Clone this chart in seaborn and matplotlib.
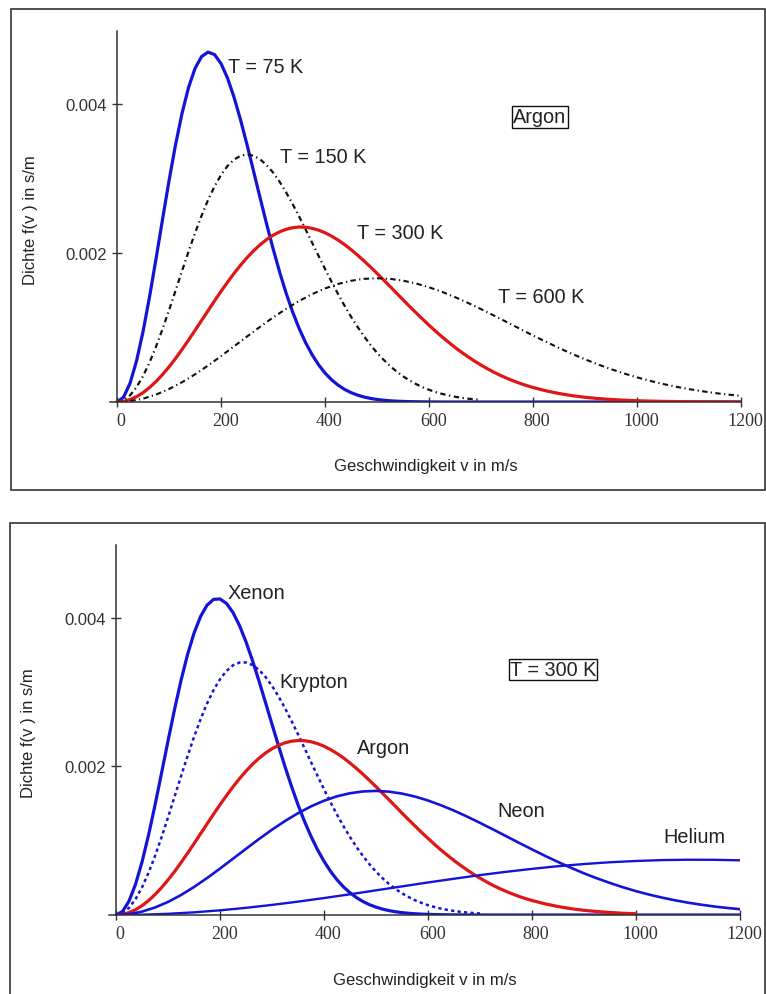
import matplotlib
matplotlib.use("Agg")
import matplotlib.pyplot as plt
import matplotlib.transforms as mtransforms
import seaborn as sns
from matplotlib.patches import Rectangle

# ---------------- data ----------------
# velocity grids (m/s)
v_narrow = [0, 12.5, 25, 37.5, 50, 62.5, 75, 87.5, 100, 112.5, 125, 137.5, 150, 162.5,
            175, 187.5, 200, 212.5, 225, 237.5, 250, 262.5, 275, 287.5, 300, 312.5, 325,
            337.5, 350, 362.5, 375, 387.5, 400, 412.5, 425, 437.5, 450, 462.5, 475, 487.5,
            500, 512.5, 525, 537.5, 550, 562.5, 575, 587.5, 600, 612.5, 625, 637.5, 650,
            662.5, 675, 687.5, 700, 1200]
v_argon300 = [0, 12.5, 25, 37.5, 50, 62.5, 75, 87.5, 100, 112.5, 125, 137.5, 150, 162.5,
              175, 187.5, 200, 212.5, 225, 237.5, 250, 262.5, 275, 287.5, 300, 312.5, 325,
              337.5, 350, 362.5, 375, 387.5, 400, 412.5, 425, 437.5, 450, 462.5, 475,
              487.5, 500, 512.5, 525, 537.5, 550, 562.5, 575, 587.5, 600, 612.5, 625,
              637.5, 650, 662.5, 675, 687.5, 700, 712.5, 725, 737.5, 750, 762.5, 775,
              787.5, 800, 825, 850, 875, 900, 925, 950, 975, 1000, 1025, 1050, 1075, 1100,
              1125, 1150, 1175, 1200]
v_wide = [0, 25, 50, 75, 100, 125, 150, 175, 200, 225, 250, 275, 300, 325, 350, 375,
          400, 425, 450, 475, 500, 525, 550, 575, 600, 625, 650, 675, 700, 725, 750,
          775, 800, 825, 850, 875, 900, 925, 950, 975, 1000, 1025, 1050, 1075, 1100,
          1125, 1150, 1175, 1200]
v_helium = [0, 50, 100, 150, 200, 250, 300, 350, 400, 450, 500, 550, 600, 650, 700,
            750, 800, 850, 900, 950, 1000, 1050, 1100, 1150, 1200]

# Argon at different temperatures (top panel), density f(v) in s/m
argon_75K = [0.0, 0.0000636, 0.000251, 0.000550, 0.000944, 0.001410, 0.001922, 0.002450,
             0.002969, 0.003452, 0.003874, 0.004221, 0.004477, 0.004636, 0.004697,
             0.004664, 0.004543, 0.004349, 0.004092, 0.003789, 0.003454, 0.003101,
             0.002745, 0.002395, 0.002061, 0.001750, 0.001466, 0.001213, 0.000991,
             0.000799, 0.000637, 0.000501, 0.000389, 0.000299, 0.000227, 0.000170,
             0.000126, 0.0000926, 0.0000671, 0.0000481, 0.0000341, 0.0000239, 0.0000165,
             0.0000113, 0.0000077, 0.0000051, 0.0000034, 0.0000022, 0.0000014, 0.0000009,
             0.0, 0.0, 0.0, 0.0, 0.0, 0.0, 0.0, 0.0]
argon_150K = [0.0, 0.0000225, 0.0000894, 0.000199, 0.000347, 0.000530, 0.000743, 0.000979,
              0.001231, 0.001494, 0.001758, 0.002018, 0.002268, 0.002500, 0.002711,
              0.002894, 0.003047, 0.003168, 0.003254, 0.003305, 0.003322, 0.003306,
              0.003258, 0.003182, 0.003081, 0.002958, 0.002816, 0.002660, 0.002493,
              0.002319, 0.002141, 0.001963, 0.001787, 0.001615, 0.001451, 0.001293,
              0.001146, 0.001009, 0.000882, 0.000766, 0.000661, 0.000568, 0.000484,
              0.000410, 0.000345, 0.000289, 0.000241, 0.000199, 0.000164, 0.000134,
              0.000109, 0.0000881, 0.0000708, 0.0000565, 0.0000448, 0.0000354, 0.0000279]
argon_300K = [0.0, 0.0000080, 0.0000318, 0.0000711, 0.000125, 0.000194, 0.000275, 0.000368,
              0.000472, 0.000584, 0.000705, 0.000831, 0.000961, 0.001093, 0.001225,
              0.001357, 0.001485, 0.001608, 0.001726, 0.001836, 0.001937, 0.002029,
              0.002110, 0.002180, 0.002238, 0.002284, 0.002318, 0.002339, 0.002349,
              0.002346, 0.002332, 0.002307, 0.002272, 0.002227, 0.002174, 0.002114,
              0.002046, 0.001972, 0.001894, 0.001812, 0.001727, 0.001639, 0.001551,
              0.001462, 0.001372, 0.001284, 0.001198, 0.001113, 0.001031, 0.000951,
              0.000875, 0.000803, 0.000733, 0.000668, 0.000607, 0.000549, 0.000496,
              0.000446, 0.000399, 0.000357, 0.000318, 0.000283, 0.000250, 0.000221,
              0.000195, 0.000150, 0.000114, 0.0000852, 0.0000632, 0.0000463, 0.0000336,
              0.0000240, 0.0000170, 0.0000119, 0.0000083, 0.0000056, 0.0000038, 0.0000026,
              0.0000017, 0.0000011, 0.0000007]
argon_600K = [0.0, 0.0000113, 0.0000447, 0.0000993, 0.000174, 0.000265, 0.000371, 0.000489,
              0.000616, 0.000747, 0.000879, 0.001009, 0.001134, 0.001250, 0.001355,
              0.001447, 0.001524, 0.001584, 0.001627, 0.001653, 0.001661, 0.001653,
              0.001629, 0.001591, 0.001540, 0.001479, 0.001408, 0.001330, 0.001247,
              0.001160, 0.001071, 0.000982, 0.000893, 0.000808, 0.000725, 0.000646,
              0.000573, 0.000504, 0.000441, 0.000383, 0.000331, 0.000284, 0.000242,
              0.000205, 0.000173, 0.000145, 0.000120, 0.0000997, 0.0000819]

# Noble gases at 300 K (bottom panel)
xenon = [0.0, 0.0000474, 0.000187, 0.000413, 0.000714, 0.001074, 0.001479, 0.001908,
         0.002343, 0.002765, 0.003157, 0.003504, 0.003793, 0.004017, 0.004169, 0.004248,
         0.004254, 0.004193, 0.004071, 0.003895, 0.003676, 0.003424, 0.003149, 0.002860,
         0.002567, 0.002277, 0.001996, 0.001731, 0.001484, 0.001260, 0.001058, 0.000879,
         0.000723, 0.000588, 0.000474, 0.000378, 0.000299, 0.000234, 0.000181, 0.000139,
         0.000106, 0.0000795, 0.0000593, 0.0000438, 0.0000321, 0.0000233, 0.0000167,
         0.0000119, 0.0000084, 0.0000059, 0.0000041, 0.0000028, 0.0000019, 0.0000013,
         0.0, 0.0, 0.0, 0.0]
krypton = [0.0, 0.0000242, 0.0000961, 0.000213, 0.000372, 0.000568, 0.000795, 0.001046,
           0.001313, 0.001590, 0.001867, 0.002138, 0.002396, 0.002633, 0.002845, 0.003026,
           0.003174, 0.003286, 0.003361, 0.003398, 0.003399, 0.003365, 0.003299, 0.003204,
           0.003084, 0.002943, 0.002784, 0.002612, 0.002432, 0.002246, 0.002058, 0.001874,
           0.001692, 0.001517, 0.001350, 0.001195, 0.001049, 0.000915, 0.000792, 0.000682,
           0.000583, 0.000495, 0.000418, 0.000350, 0.000292, 0.000242, 0.000199, 0.000163,
           0.000132, 0.000107, 0.0000859, 0.0000685, 0.0000543, 0.0000428, 0.0000336,
           0.0000262, 0.0000203]
neon = [0.0, 0.0000115, 0.0000454, 0.000101, 0.000176, 0.000269, 0.000377, 0.000497,
        0.000625, 0.000758, 0.000891, 0.001023, 0.001148, 0.001265, 0.001370, 0.001462,
        0.001538, 0.001598, 0.001639, 0.001663, 0.001670, 0.001660, 0.001634, 0.001594,
        0.001541, 0.001477, 0.001405, 0.001325, 0.001240, 0.001152, 0.001062, 0.000971,
        0.000883, 0.000796, 0.000714, 0.000635, 0.000561, 0.000493, 0.000431, 0.000373,
        0.000321, 0.000275, 0.000234, 0.000198, 0.000166, 0.000139, 0.000115, 0.0000952,
        0.0000781]
helium = [0.0, 0.0000040, 0.0000161, 0.0000359, 0.0000628, 0.0000964, 0.000136, 0.000180,
          0.000228, 0.000279, 0.000332, 0.000385, 0.000438, 0.000488, 0.000537, 0.000581,
          0.000621, 0.000657, 0.000686, 0.000710, 0.000727, 0.000739, 0.000744, 0.000743,
          0.000736]

x_ticks = [0, 200, 400, 600, 800, 1000, 1200]
x_tick_labels = ["0", "200", "400", "600", "800", "1000", "1200"]
y_ticks = [0.002, 0.004]
y_tick_labels = ["0.002", "0.004"]

x_label = "Geschwindigkeit v in m/s"
y_label = "Dichte f(v ) in s/m"

# ---------------- styling ----------------
sns.set_theme(style="white")
plt.rcParams['font.family'] = ['Liberation Sans', 'DejaVu Sans']

BLUE = "#1414d6"
RED = "#e01515"
BLACK = "#111111"
AX = "#333333"
TXT = "#222222"

W, H = 766, 995
fig = plt.figure(figsize=(W / 100, H / 100), dpi=100)

# outer frames
fig.add_artist(Rectangle((11 / W, 1 - 491 / H), (765 - 11) / W, (491 - 10) / H,
                         transform=fig.transFigure, fill=False, ec=AX, lw=1.2))
fig.add_artist(Rectangle((10 / W, -0.01), (765 - 10) / W, 0.01 + (995 - 524) / H,
                         transform=fig.transFigure, fill=False, ec=AX, lw=1.2))

ax1 = fig.add_axes([110 / W, 1 - 403 / H, 631 / W, 371 / H])
ax2 = fig.add_axes([109 / W, 1 - 916 / H, 631 / W, 370 / H])

label_shift = mtransforms.ScaledTranslation(3 / 72, 0, fig.dpi_scale_trans)


def draw(ax, v, f, color, lw, ls="-"):
    n = min(len(v), len(f))
    sns.lineplot(x=v[:n], y=f[:n], ax=ax, color=color, linewidth=lw,
                 linestyle=ls, estimator=None, sort=False)


def style_axes(ax, xlab_y, ylab_x):
    ax.set_xlim(-13.5, 1200)
    ax.set_ylim(0, 0.00498)
    ax.spines['top'].set_visible(False)
    ax.spines['right'].set_visible(False)
    ax.spines['left'].set_position(('data', 0))
    for s in ('left', 'bottom'):
        ax.spines[s].set_color(AX)
        ax.spines[s].set_linewidth(1.1)
    ax.set_xticks(x_ticks)
    ax.set_xticklabels(x_tick_labels)
    ax.set_yticks(y_ticks)
    ax.set_yticklabels(y_tick_labels)
    ax.tick_params(axis='both', which='major', bottom=True, left=True,
                   direction='inout', length=7, width=1.0, color=AX,
                   labelsize=12, labelcolor=AX, pad=3.5)
    for lab in ax.get_xticklabels():
        lab.set_family(['Liberation Serif', 'DejaVu Serif'])
        lab.set_fontsize(13)
        lab.set_transform(lab.get_transform() + label_shift)
    ax.set_xlabel(x_label, fontsize=12, color=TXT)
    ax.set_ylabel(y_label, fontsize=12, color=TXT)
    ax.xaxis.set_label_coords(0.5, xlab_y)
    ax.xaxis.label.set_va('center')
    ax.yaxis.set_label_coords(ylab_x, 0.493)
    ax.yaxis.label.set_va('center')
    ax.grid(False)


# ---------------- top panel: Argon ----------------
draw(ax1, v_narrow, argon_75K, BLUE, 2.3)
draw(ax1, v_narrow, argon_150K, BLACK, 1.6, (0, (2.4, 1.6, 0.6, 1.6)))
draw(ax1, v_argon300, argon_300K, RED, 2.3)
draw(ax1, v_wide, argon_600K, BLACK, 1.5, (0, (2.6, 1.6, 0.6, 1.6)))
style_axes(ax1, -0.1725, -0.1252)

tkw = dict(fontsize=14.3, color=TXT, va='center', ha='left')
ax1.text(213, 0.00451, "T = 75 K", **tkw)
ax1.text(313, 0.00330, "T = 150 K", **tkw)
ax1.text(462, 0.00228, "T = 300 K", **tkw)
ax1.text(733, 0.00142, "T = 600 K", **tkw)
ax1.text(813, 0.00383, "Argon", fontsize=14.3, color=TXT, ha='center', va='center',
         bbox=dict(boxstyle='square,pad=0.08', fc='white', ec='#111111', lw=1.0))

# ---------------- bottom panel: gases at 300 K ----------------
draw(ax2, v_narrow, xenon, BLUE, 2.3)
draw(ax2, v_narrow, krypton, BLUE, 1.8, (0, (1.3, 1.3)))
draw(ax2, v_argon300[:73], argon_300K[:73], RED, 2.3)
draw(ax2, v_wide, neon, BLUE, 1.9)
draw(ax2, v_helium, helium, BLUE, 1.7)
style_axes(ax2, -0.173, -0.127)

ax2.text(215, 0.00434, "Xenon", **tkw)
ax2.text(315, 0.00314, "Krypton", **tkw)
ax2.text(463, 0.00226, "Argon", **tkw)
ax2.text(733, 0.00140, "Neon", **tkw)
ax2.text(1052, 0.00106, "Helium", **tkw)
ax2.text(840, 0.00331, "T = 300 K", fontsize=14.3, color=TXT, ha='center', va='center',
         bbox=dict(boxstyle='square,pad=0.05', fc='white', ec='#111111', lw=1.0))

fig.savefig("out.png", dpi=100)
